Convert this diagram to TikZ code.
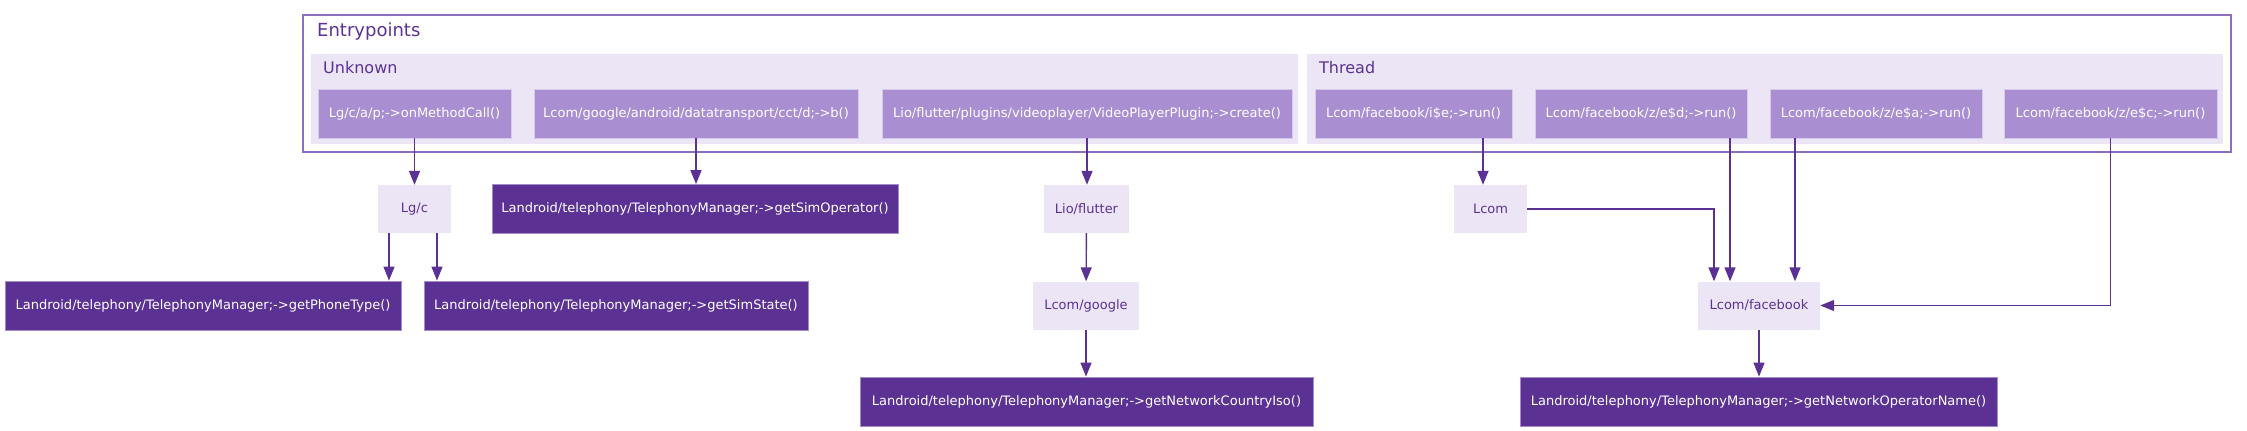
\documentclass[tikz,border=0pt]{standalone}
\usepackage{fontspec}
\setmainfont{DejaVu Sans}
\usepackage{tikz}
\usetikzlibrary{arrows.meta}
\usepackage{xcolor}
\definecolor{deep}{HTML}{5B3294}
\definecolor{lilac}{HTML}{ECE5F5}
\definecolor{mauve}{HTML}{A98FD2}
\definecolor{frame}{HTML}{8E6FBF}
\definecolor{edgeline}{HTML}{D6CAEC}

\begin{document}
\begin{tikzpicture}[x=1pt,y=-1pt,>={Triangle[length=14pt,width=11pt]},
  every node/.style={inner sep=0pt,font=\fontsize{13}{15}\selectfont},
  entry/.style={fill=mauve,draw=edgeline,line width=0.8pt,text=white,minimum height=49pt},
  pkg/.style={fill=lilac,text=deep,minimum height=48pt},
  api/.style={fill=deep,draw=edgeline!60!deep,line width=0.8pt,text=white,minimum height=49pt},
  flow/.style={->,draw=deep,line width=1.4pt}]
\useasboundingbox (0,0) rectangle (2247,431);
\draw[frame,line width=1.8pt] (303,15) rectangle (2231,152);
\fill[lilac] (311,54) rectangle (1298,144);
\fill[lilac] (1307,54) rectangle (2223,144);
\node[anchor=base west,text=deep,font=\fontsize{18}{20}\selectfont] (entrylbl) at (317,36) {Entrypoints};
\node[anchor=base west,text=deep,font=\fontsize{16}{18}\selectfont] (unknownlbl) at (323,73) {Unknown};
\node[anchor=base west,text=deep,font=\fontsize{16}{18}\selectfont] (threadlbl) at (1319,73) {Thread};

\node[entry,minimum width=193pt] (lgp) at (414.5,113.5) {Lg/c/a/p;->onMethodCall()};
\node[entry,minimum width=324pt] (gdt) at (696,113.5) {Lcom/google/android/datatransport/cct/d;->b()};
\node[entry,minimum width=410pt] (vpp) at (1087,113.5) {Lio/flutter/plugins/videoplayer/VideoPlayerPlugin;->create()};
\node[entry,minimum width=197pt] (fbie) at (1413.5,113.5) {Lcom/facebook/i\$e;->run()};
\node[entry,minimum width=212pt] (fbzd) at (1641,113.5) {Lcom/facebook/z/e\$d;->run()};
\node[entry,minimum width=212pt] (fbza) at (1876,113.5) {Lcom/facebook/z/e\$a;->run()};
\node[entry,minimum width=213pt] (fbzc) at (2110.5,113.5) {Lcom/facebook/z/e\$c;->run()};

\node[pkg,minimum width=73pt] (lgc) at (414.5,209) {Lg/c};
\node[api,minimum width=406pt] (simop) at (695,209) {Landroid/telephony/TelephonyManager;->getSimOperator()};
\node[pkg,minimum width=85pt] (liof) at (1086.5,209) {Lio/flutter};
\node[pkg,minimum width=73pt] (lcom) at (1490.5,209) {Lcom};

\node[api,minimum width=396pt] (phonetype) at (203,305.5) {Landroid/telephony/TelephonyManager;->getPhoneType()};
\node[api,minimum width=384pt] (simstate) at (616,305.5) {Landroid/telephony/TelephonyManager;->getSimState()};
\node[pkg,minimum width=106pt] (lcomg) at (1086,305.5) {Lcom/google};
\node[pkg,minimum width=122pt] (lcomfb) at (1759,305.5) {Lcom/facebook};

\node[api,minimum width=453pt] (countryiso) at (1086.5,401.5) {Landroid/telephony/TelephonyManager;->getNetworkCountryIso()};
\node[api,minimum width=477pt] (opname) at (1758.5,401.5) {Landroid/telephony/TelephonyManager;->getNetworkOperatorName()};

\draw[flow] (lgp) -- (lgc);
\draw[flow] (gdt.south) -- (gdt.south |- simop.north);
\draw[flow] (vpp.south) -- (vpp.south |- liof.north);
\draw[flow] ([xshift=69.5pt]fbie.south) -- ([xshift=69.5pt]fbie.south |- lcom.north);
\draw[flow] ([xshift=-25.5pt]lgc.south) -- ([xshift=-25.5pt]lgc.south |- phonetype.north);
\draw[flow] ([xshift=22.5pt]lgc.south) -- ([xshift=22.5pt]lgc.south |- simstate.north);
\draw[flow] (liof) -- (lcomg);
\draw[flow] (lcomg.south) -- (lcomg.south |- countryiso.north);
\draw[flow] (lcom.east) -| ([xshift=-45pt]lcomfb.north);
\draw[flow] ([xshift=89pt]fbzd.south) -- ([xshift=-29pt]lcomfb.north);
\draw[flow] ([xshift=-81pt]fbza.south) -- ([xshift=36pt]lcomfb.north);
\draw[flow] (fbzc.south) |- (lcomfb.east);
\draw[flow] (lcomfb.south) -- (lcomfb.south |- opname.north);
\end{tikzpicture}
\end{document}
